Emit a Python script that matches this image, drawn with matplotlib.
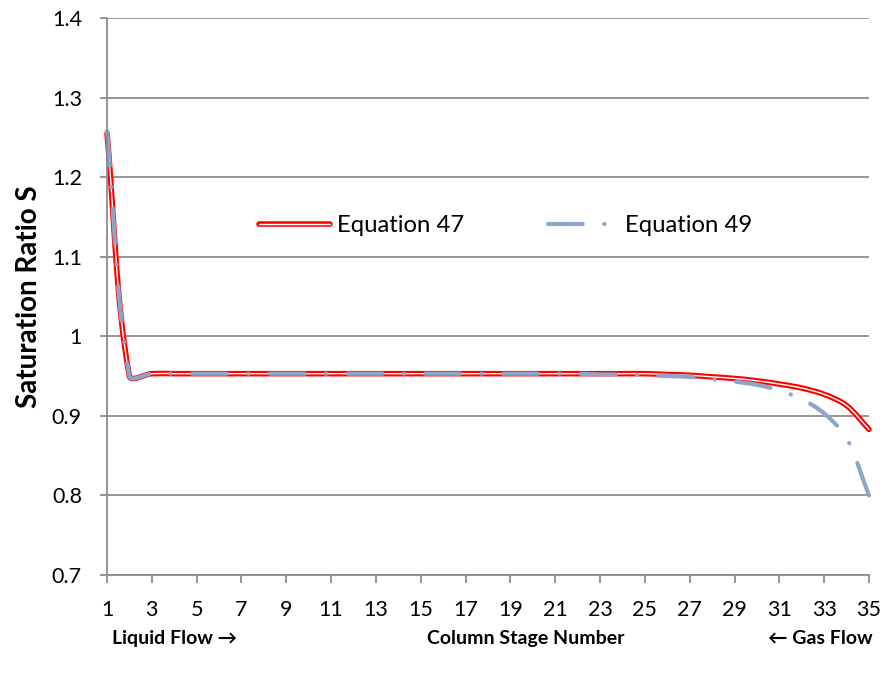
import numpy as np
import matplotlib.pyplot as plt
from matplotlib.path import Path
from matplotlib.patches import PathPatch
from matplotlib.lines import Line2D

plt.rcParams['font.family'] = ['Lato', 'DejaVu Sans']

stages = list(range(1, 36))
eq47 = [1.255, 0.950, 0.953, 0.953, 0.953, 0.953, 0.953, 0.953, 0.953, 0.953,
        0.953, 0.953, 0.953, 0.953, 0.953, 0.953, 0.953, 0.953, 0.953, 0.953,
        0.953, 0.953, 0.953, 0.953, 0.953, 0.952, 0.951, 0.949, 0.947, 0.944,
        0.940, 0.935, 0.927, 0.913, 0.883]
eq49 = [1.258, 0.950, 0.953, 0.953, 0.953, 0.953, 0.953, 0.953, 0.953, 0.953,
        0.953, 0.953, 0.953, 0.953, 0.953, 0.953, 0.953, 0.953, 0.953, 0.953,
        0.953, 0.953, 0.952, 0.952, 0.951, 0.950, 0.949, 0.946, 0.943, 0.939,
        0.932, 0.921, 0.903, 0.872, 0.800]
tick_stages = list(range(1, 36, 2))
y_ticks = [0.7, 0.8, 0.9, 1, 1.1, 1.2, 1.3, 1.4]

red = '#ff0000'
blue = '#8ea5cb'
grey = '#8c8c8c'


def smooth_path(ax, xs, ys):
    # bezier curve through the points, like a smoothed spreadsheet line
    pts = ax.transData.transform(np.column_stack([xs, ys]))
    n = len(pts)
    verts = [pts[0]]
    codes = [Path.MOVETO]
    for i in range(n - 1):
        p0 = pts[i - 1] if i > 0 else pts[i]
        p1 = pts[i]
        p2 = pts[i + 1]
        p3 = pts[i + 2] if i + 2 < n else pts[i + 1]
        l01 = np.hypot(*(p1 - p0))
        l12 = np.hypot(*(p2 - p1))
        l23 = np.hypot(*(p3 - p2))
        c1 = p1 + (p2 - p0) * (l12 / max(l01 + l12, 1e-9)) / 3
        c2 = p2 - (p3 - p1) * (l12 / max(l12 + l23, 1e-9)) / 3
        verts += [c1, c2, p2]
        codes += [Path.CURVE4] * 3
    verts = ax.transData.inverted().transform(np.array(verts))
    return Path(verts, codes)


fig = plt.figure(figsize=(8.85, 6.79), dpi=100)
ax = fig.add_axes([107 / 885, 104 / 679, 762 / 885, 557 / 679])
ax.set_xlim(1, 35)
ax.set_ylim(0.7, 1.4)

ax.set_yticks(y_ticks)
ax.set_yticklabels(['0.7', '0.8', '0.9', '1', '1.1', '1.2', '1.3', '1.4'])
ax.set_xticks(tick_stages)
ax.grid(axis='y', color=grey, lw=1.3)
ax.set_axisbelow(True)
for s in ['top', 'right']:
    ax.spines[s].set_visible(False)
for s in ['left', 'bottom']:
    ax.spines[s].set_color(grey)
    ax.spines[s].set_linewidth(1.3)
ax.tick_params(axis='y', length=5, width=1.3, color=grey, pad=13, labelsize=15.5)
ax.tick_params(axis='x', length=6, width=1.3, color=grey, pad=12, labelsize=15.5)

p47 = smooth_path(ax, stages, eq47)
p49 = smooth_path(ax, stages, eq49)
ax.add_patch(PathPatch(p47, fill=False, edgecolor=red, lw=4.0,
                       capstyle='round', joinstyle='round', clip_on=False))
ax.add_patch(PathPatch(p47, fill=False, edgecolor='white', lw=1.0,
                       capstyle='round', joinstyle='round', clip_on=False))
dash = (0, (8.35, 5.13, 0.05, 5.13))
ax.add_patch(PathPatch(p49, fill=False, edgecolor=blue, lw=3.0, linestyle=dash,
                       capstyle='round', joinstyle='round', clip_on=False))

ax.set_ylabel('Saturation Ratio S', fontsize=20, fontweight='bold', labelpad=7)

h47 = (Line2D([], [], color=red, lw=4.0, solid_capstyle='round'),
       Line2D([], [], color='white', lw=1.0, solid_capstyle='round'))
h49 = Line2D([], [], color=blue, lw=3.0, linestyle=dash, dash_capstyle='round')
ax.legend([h47, h49], ['Equation 47', 'Equation 49'], ncol=2, frameon=False,
          loc='center', bbox_to_anchor=(0.5236, 0.6266), fontsize=17.2,
          handlelength=2.95, handletextpad=0.3, columnspacing=3.5)

fig.text(112 / 885, 0.06, 'Liquid Flow \u2192', fontsize=14, fontweight='bold',
         ha='left', va='center')
fig.text(526 / 885, 0.06, 'Column Stage Number', fontsize=14, fontweight='bold',
         ha='center', va='center')
fig.text(873 / 885, 0.06, '\u2190 Gas Flow', fontsize=14, fontweight='bold',
         ha='right', va='center')

fig.savefig('out.png', dpi=100)
